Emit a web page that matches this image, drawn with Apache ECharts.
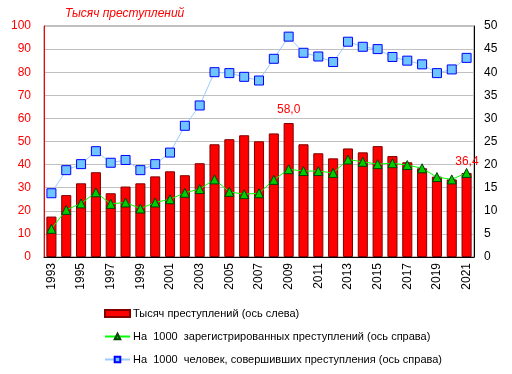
<!DOCTYPE html>
<html><head><meta charset="utf-8">
<script src="https://cdn.jsdelivr.net/npm/echarts@6/dist/echarts.min.js"></script>
<style>html,body{margin:0;padding:0;background:#fff}#c{width:512px;height:374px}</style>
</head><body><div id="c"></div>
<script>
const years = ['1993','1994','1995','1996','1997','1998','1999','2000','2001','2002','2003','2004','2005','2006','2007','2008','2009','2010','2011','2012','2013','2014','2015','2016','2017','2018','2019','2020','2021'];
const crimesThousand = [17.5,26.8,31.9,36.7,27.6,30.5,31.9,34.9,37.1,35.4,40.6,48.8,51.0,52.7,50.1,53.5,58.0,48.8,44.9,42.7,47.0,45.3,48.0,43.7,41.0,38.4,34.8,33.6,36.4];
const per1000Registered = [6.1,10.2,11.6,14.0,11.5,11.8,10.5,11.8,12.5,13.9,14.7,16.8,14.1,13.6,13.8,16.7,19.0,18.6,18.6,18.2,21.1,20.6,20.1,20.3,19.9,19.2,17.3,16.8,18.2];
const per1000Persons = [13.8,18.8,20.1,22.9,20.4,21.0,18.8,20.1,22.6,28.4,32.8,40.0,39.8,39.0,38.2,42.9,47.7,44.2,43.4,42.2,46.6,45.5,45.0,43.3,42.5,41.7,39.8,40.6,43.1];
const labelledYears = {'2009':'58,0','2021':'36,4'};

const F = 'Liberation Sans, Arial, sans-serif';
const barData = crimesThousand.map((v,i)=>{
  const y = years[i];
  if (labelledYears[y]) {
    return {value:v,label:{show:true,position: y==='2021'?'insideTopRight':'top',
      formatter:labelledYears[y],color:'#ff0000',fontSize:12,fontFamily:F,
      offset: y==='2021'?[12,-22]:[0,-2]}};
  }
  return v;
});

const chart = echarts.init(document.getElementById('c'));
chart.setOption({
  animation:false,
  textStyle:{fontFamily:F},
  title:{text:'Тысяч преступлений',left:60,top:3,textStyle:{color:'#ff0000',fontStyle:'italic',fontWeight:'normal',fontSize:12,fontFamily:F}},
  grid:{left:44,right:38,top:26,bottom:117,show:true,borderColor:'#808080',borderWidth:1},
  legend:{orient:'vertical',left:104,top:308,padding:0,itemGap:12,itemWidth:25,itemHeight:7,
    textStyle:{fontSize:11,color:'#000',fontFamily:F,padding:[0,0,0,-2]},
    data:[
      {name:'Тысяч преступлений (ось слева)',icon:'rect'},
      {name:'На  1000  зарегистрированных преступлений (ось справа)'},
      {name:'На  1000  человек, совершивших преступления (ось справа)'}
    ]},
  xAxis:{type:'category',data:years,boundaryGap:true,
    axisLine:{lineStyle:{color:'#000',width:1}},
    axisTick:{show:false},
    axisLabel:{rotate:90,interval:1,color:'#000',fontSize:12,fontFamily:F,margin:6}},
  yAxis:[
    {type:'value',min:0,max:100,interval:10,position:'left',
      axisLine:{show:true,lineStyle:{color:'#ff0000',width:1}},axisTick:{show:false},
      axisLabel:{color:'#ff0000',fontSize:12,fontFamily:F,margin:13},
      splitLine:{lineStyle:{color:'#c0c0c0'}}},
    {type:'value',min:0,max:50,interval:5,position:'right',
      axisLine:{show:true,lineStyle:{color:'#000',width:1}},axisTick:{show:false},
      axisLabel:{color:'#000',fontSize:12,fontFamily:F,margin:10},
      splitLine:{show:false}}
  ],
  series:[
    {name:'Тысяч преступлений (ось слева)',type:'bar',yAxisIndex:0,data:barData,barCategoryGap:'32%',
      itemStyle:{color:'#ff0000',borderColor:'#800000',borderWidth:1}},
    {name:'На  1000  зарегистрированных преступлений (ось справа)',type:'line',yAxisIndex:1,data:per1000Registered,
      symbol:'triangle',symbolSize:9,lineStyle:{color:'#00ff00',width:1},
      itemStyle:{color:'#00cc00',borderColor:'#004000',borderWidth:1}},
    {name:'На  1000  человек, совершивших преступления (ось справа)',type:'line',yAxisIndex:1,data:per1000Persons,
      symbol:'rect',symbolSize:9,lineStyle:{color:'#99ccff',width:1},
      itemStyle:{color:'#70c4ff',borderColor:'#0000ff',borderWidth:1}}
  ]
});
</script></body></html>
